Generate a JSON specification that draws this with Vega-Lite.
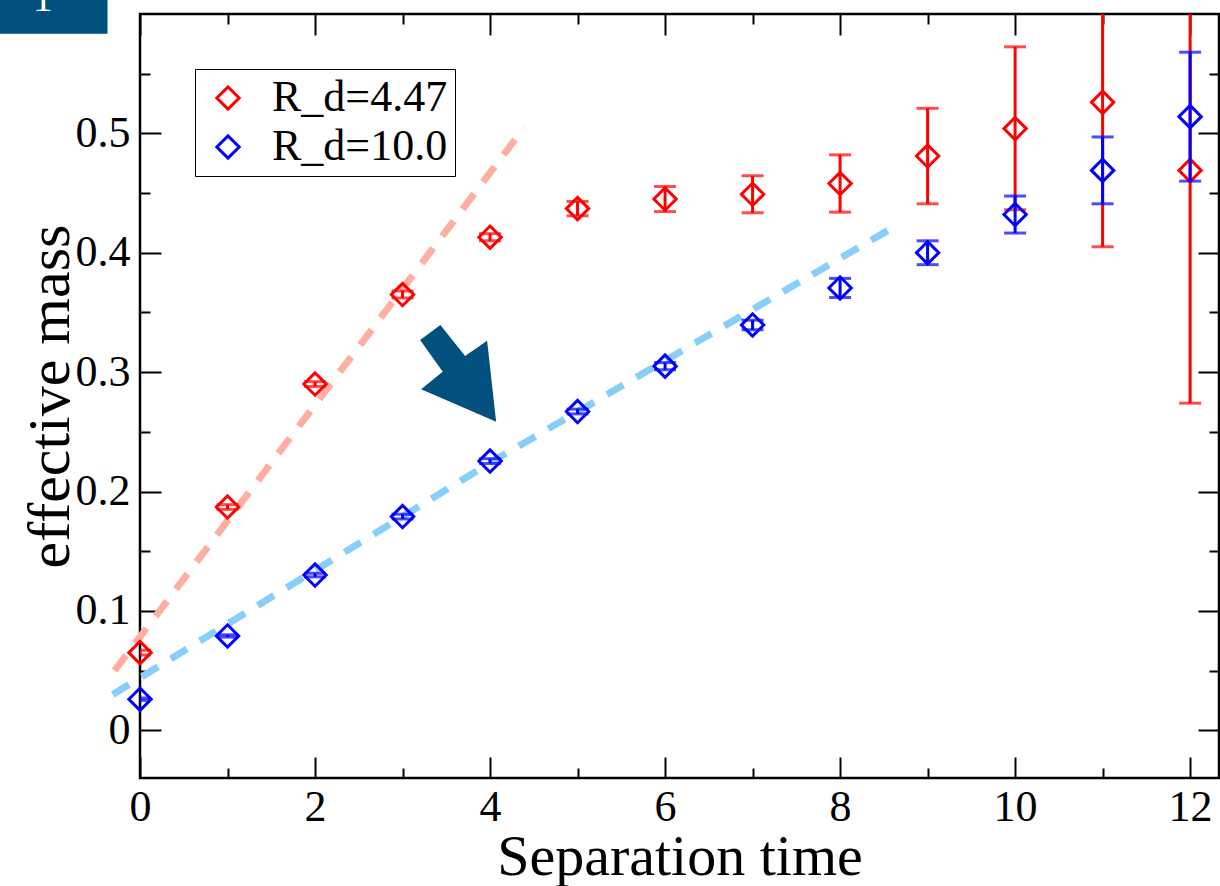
{
  "$schema": "https://vega.github.io/schema/vega-lite/v6.json",
  "width": 1079,
  "height": 764,
  "autosize": {"type": "none"},
  "padding": {"left": 140, "top": 14, "right": 1, "bottom": 108},
  "background": "white",
  "config": {
    "view": {"stroke": "black", "strokeWidth": 2.5},
    "axis": {"grid": false, "domain": false, "tickColor": "black", "tickWidth": 2, "labelFlush": false, "labelOverlap": false, "labelFont": "Liberation Serif", "labelColor": "black", "titleFont": "Liberation Serif", "titleColor": "black", "titleFontWeight": "normal"}
  },
  "datasets": {
    "pts": [
      {"t": 0, "m": 0.065, "lo": 0.063, "hi": 0.067, "series": "R_d=4.47"},
      {"t": 1, "m": 0.187, "lo": 0.185, "hi": 0.189, "series": "R_d=4.47"},
      {"t": 2, "m": 0.290, "lo": 0.288, "hi": 0.292, "series": "R_d=4.47"},
      {"t": 3, "m": 0.365, "lo": 0.362, "hi": 0.368, "series": "R_d=4.47"},
      {"t": 4, "m": 0.413, "lo": 0.410, "hi": 0.416, "series": "R_d=4.47"},
      {"t": 5, "m": 0.437, "lo": 0.431, "hi": 0.443, "series": "R_d=4.47"},
      {"t": 6, "m": 0.445, "lo": 0.4345, "hi": 0.4555, "series": "R_d=4.47"},
      {"t": 7, "m": 0.449, "lo": 0.4335, "hi": 0.4645, "series": "R_d=4.47"},
      {"t": 8, "m": 0.458, "lo": 0.434, "hi": 0.482, "series": "R_d=4.47"},
      {"t": 9, "m": 0.481, "lo": 0.441, "hi": 0.521, "series": "R_d=4.47"},
      {"t": 10, "m": 0.504, "lo": 0.436, "hi": 0.5725, "series": "R_d=4.47"},
      {"t": 11, "m": 0.526, "lo": 0.405, "hi": 0.647, "series": "R_d=4.47"},
      {"t": 12, "m": 0.469, "lo": 0.274, "hi": 0.664, "series": "R_d=4.47"},
      {"t": 0, "m": 0.026, "lo": 0.025, "hi": 0.027, "series": "R_d=10.0"},
      {"t": 1, "m": 0.079, "lo": 0.078, "hi": 0.080, "series": "R_d=10.0"},
      {"t": 2, "m": 0.130, "lo": 0.1285, "hi": 0.1315, "series": "R_d=10.0"},
      {"t": 3, "m": 0.179, "lo": 0.177, "hi": 0.181, "series": "R_d=10.0"},
      {"t": 4, "m": 0.2255, "lo": 0.2235, "hi": 0.2275, "series": "R_d=10.0"},
      {"t": 5, "m": 0.267, "lo": 0.265, "hi": 0.269, "series": "R_d=10.0"},
      {"t": 6, "m": 0.305, "lo": 0.302, "hi": 0.308, "series": "R_d=10.0"},
      {"t": 7, "m": 0.3395, "lo": 0.3355, "hi": 0.3435, "series": "R_d=10.0"},
      {"t": 8, "m": 0.3705, "lo": 0.3625, "hi": 0.3785, "series": "R_d=10.0"},
      {"t": 9, "m": 0.400, "lo": 0.390, "hi": 0.410, "series": "R_d=10.0"},
      {"t": 10, "m": 0.432, "lo": 0.4165, "hi": 0.4475, "series": "R_d=10.0"},
      {"t": 11, "m": 0.469, "lo": 0.441, "hi": 0.497, "series": "R_d=10.0"},
      {"t": 12, "m": 0.514, "lo": 0.460, "hi": 0.568, "series": "R_d=10.0"}
    ],
    "fits": [
      {"t": -0.29, "m": 0.050, "series": "R_d=4.47"},
      {"t": 4.39, "m": 0.505, "series": "R_d=4.47"},
      {"t": -0.31, "m": 0.030, "series": "R_d=10.0"},
      {"t": 4, "m": 0.224, "series": "R_d=10.0"},
      {"t": 8.6, "m": 0.421, "series": "R_d=10.0"}
    ]
  },
  "resolve": {"axis": {"x": "independent", "y": "independent"}},
  "layer": [
    {
      "data": {"name": "fits"},
      "transform": [{"filter": "datum.series === 'R_d=4.47'"}],
      "mark": {"type": "line", "color": "#FFAEA0", "strokeWidth": 7, "strokeDash": [19, 15], "strokeCap": "butt"},
      "encoding": {
        "x": {"field": "t", "type": "quantitative", "scale": {"domain": [0, 12.33], "nice": false, "zero": false},
              "axis": {"orient": "top", "values": [0, 2, 4, 6, 8, 10, 12], "offset": -21, "tickSize": 21, "labels": false, "title": null}},
        "y": {"field": "m", "type": "quantitative", "scale": {"domain": [-0.04, 0.6], "nice": false, "zero": false},
              "axis": {"orient": "right", "values": [0, 0.1, 0.2, 0.3, 0.4, 0.5], "offset": -21, "tickSize": 21, "labels": false, "title": null}}
      }
    },
    {
      "data": {"name": "fits"},
      "transform": [{"filter": "datum.series === 'R_d=10.0'"}],
      "mark": {"type": "line", "color": "#87CEFA", "strokeWidth": 7, "strokeDash": [19, 15], "strokeCap": "butt"},
      "encoding": {
        "x": {"field": "t", "type": "quantitative", "scale": {"domain": [0, 12.33], "nice": false, "zero": false},
              "axis": {"orient": "top", "values": [1, 3, 5, 7, 9, 11], "offset": -10, "tickSize": 10, "labels": false, "title": null}},
        "y": {"field": "m", "type": "quantitative", "scale": {"domain": [-0.04, 0.6], "nice": false, "zero": false},
              "axis": {"orient": "right", "values": [0.05, 0.15, 0.25, 0.35, 0.45, 0.55], "offset": -10, "tickSize": 10, "labels": false, "title": null}}
      }
    },
    {
      "data": {"values": [{}]},
      "mark": {"type": "rect", "color": "#01507E"},
      "encoding": {
        "x": {"datum": -1.65, "type": "quantitative", "scale": {"domain": [0, 12.33], "nice": false, "zero": false}, "axis": null},
        "x2": {"datum": -0.371},
        "y": {"datum": 0.62, "type": "quantitative", "scale": {"domain": [-0.04, 0.6], "nice": false, "zero": false}, "axis": null},
        "y2": {"datum": 0.5834}
      }
    },
    {
      "data": {"values": [{}]},
      "mark": {"type": "text", "text": "1", "color": "white", "font": "Liberation Serif", "fontSize": 40, "baseline": "alphabetic", "align": "center"},
      "encoding": {
        "x": {"datum": -1.11, "type": "quantitative", "scale": {"domain": [0, 12.33], "nice": false, "zero": false}, "axis": null},
        "y": {"datum": 0.6027, "type": "quantitative", "scale": {"domain": [-0.04, 0.6], "nice": false, "zero": false}, "axis": null}
      }
    },
    {
      "data": {"values": [{}]},
      "mark": {"type": "point", "filled": true, "color": "#01507E", "opacity": 1, "strokeWidth": 0, "size": 10000,
               "shape": "M-0.786,-0.7L-0.38,-1L0.114,-0.38L0.554,-0.686L0.734,0.934L-0.766,0.286L-0.334,-0.066Z"},
      "encoding": {
        "x": {"datum": 3.65, "type": "quantitative", "scale": {"domain": [0, 12.33], "nice": false, "zero": false}, "axis": null},
        "y": {"datum": 0.2976, "type": "quantitative", "scale": {"domain": [-0.04, 0.6], "nice": false, "zero": false}, "axis": null}
      }
    },
    {
      "data": {"name": "pts"},
      "transform": [{"filter": "datum.series === 'R_d=4.47'"}],
      "mark": {"type": "rule", "color": "#FF0000", "strokeWidth": 3, "clip": true},
      "encoding": {
        "x": {"field": "t", "type": "quantitative", "scale": {"domain": [0, 12.33], "nice": false, "zero": false},
              "axis": {"orient": "bottom", "values": [0, 2, 4, 6, 8, 10, 12], "offset": -21, "tickSize": 21, "labelFontSize": 44, "labelPadding": 7, "title": "Separation time", "titleFontSize": 58, "titlePadding": -1}},
        "y": {"field": "lo", "type": "quantitative", "scale": {"domain": [-0.04, 0.6], "nice": false, "zero": false},
              "axis": {"orient": "left", "values": [0, 0.1, 0.2, 0.3, 0.4, 0.5], "format": "~g", "offset": -21, "tickSize": 21, "labelFontSize": 44, "labelPadding": 10, "title": "effective mass", "titleFontSize": 60, "titlePadding": -6}},
        "y2": {"field": "hi"}
      }
    },
    {
      "data": {"name": "pts"},
      "transform": [{"filter": "datum.series === 'R_d=4.47'"}, {"fold": ["lo", "hi"], "as": ["end", "v"]}],
      "mark": {"type": "tick", "orient": "horizontal", "color": "#FF0000", "thickness": 3, "size": 22, "clip": true},
      "encoding": {
        "x": {"field": "t", "type": "quantitative", "scale": {"domain": [0, 12.33], "nice": false, "zero": false},
              "axis": {"orient": "bottom", "values": [1, 3, 5, 7, 9, 11], "offset": -10, "tickSize": 10, "labels": false, "title": null}},
        "y": {"field": "v", "type": "quantitative", "scale": {"domain": [-0.04, 0.6], "nice": false, "zero": false},
              "axis": {"orient": "left", "values": [0.05, 0.15, 0.25, 0.35, 0.45, 0.55], "offset": -10, "tickSize": 10, "labels": false, "title": null}}
      }
    },
    {
      "data": {"name": "pts"},
      "transform": [{"filter": "datum.series === 'R_d=4.47'"}],
      "mark": {"type": "point", "shape": "diamond", "filled": false, "strokeWidth": 3, "size": 500, "opacity": 1},
      "encoding": {
        "x": {"field": "t", "type": "quantitative", "scale": {"domain": [0, 12.33], "nice": false, "zero": false}, "axis": null},
        "y": {"field": "m", "type": "quantitative", "scale": {"domain": [-0.04, 0.6], "nice": false, "zero": false}, "axis": null},
        "color": {"field": "series", "type": "nominal",
                  "scale": {"domain": ["R_d=4.47", "R_d=10.0"], "range": ["#FF0000", "#0000FF"]},
                  "legend": {"orient": "none", "legendX": 55, "legendY": 55, "title": null, "symbolType": "diamond", "symbolSize": 500, "symbolStrokeWidth": 3,
                             "labelFont": "Liberation Serif", "labelFontSize": 44, "labelColor": "black", "labelLimit": 0,
                             "strokeColor": "black", "fillColor": "white", "padding": 7, "symbolOffset": 4, "labelOffset": 22, "rowPadding": 5}}
      }
    },
    {
      "data": {"name": "pts"},
      "transform": [{"filter": "datum.series === 'R_d=10.0'"}],
      "mark": {"type": "rule", "color": "#0000FF", "strokeWidth": 3, "clip": true},
      "encoding": {
        "x": {"field": "t", "type": "quantitative", "scale": {"domain": [0, 12.33], "nice": false, "zero": false}, "axis": null},
        "y": {"field": "lo", "type": "quantitative", "scale": {"domain": [-0.04, 0.6], "nice": false, "zero": false}, "axis": null},
        "y2": {"field": "hi"}
      }
    },
    {
      "data": {"name": "pts"},
      "transform": [{"filter": "datum.series === 'R_d=10.0'"}, {"fold": ["lo", "hi"], "as": ["end", "v"]}],
      "mark": {"type": "tick", "orient": "horizontal", "color": "#0000FF", "thickness": 3, "size": 22, "clip": true},
      "encoding": {
        "x": {"field": "t", "type": "quantitative", "scale": {"domain": [0, 12.33], "nice": false, "zero": false}, "axis": null},
        "y": {"field": "v", "type": "quantitative", "scale": {"domain": [-0.04, 0.6], "nice": false, "zero": false}, "axis": null}
      }
    },
    {
      "data": {"name": "pts"},
      "transform": [{"filter": "datum.series === 'R_d=10.0'"}],
      "mark": {"type": "point", "shape": "diamond", "filled": false, "strokeWidth": 3, "size": 500, "opacity": 1},
      "encoding": {
        "x": {"field": "t", "type": "quantitative", "scale": {"domain": [0, 12.33], "nice": false, "zero": false}, "axis": null},
        "y": {"field": "m", "type": "quantitative", "scale": {"domain": [-0.04, 0.6], "nice": false, "zero": false}, "axis": null},
        "color": {"field": "series", "type": "nominal",
                  "scale": {"domain": ["R_d=4.47", "R_d=10.0"], "range": ["#FF0000", "#0000FF"]}}
      }
    }
  ]
}
